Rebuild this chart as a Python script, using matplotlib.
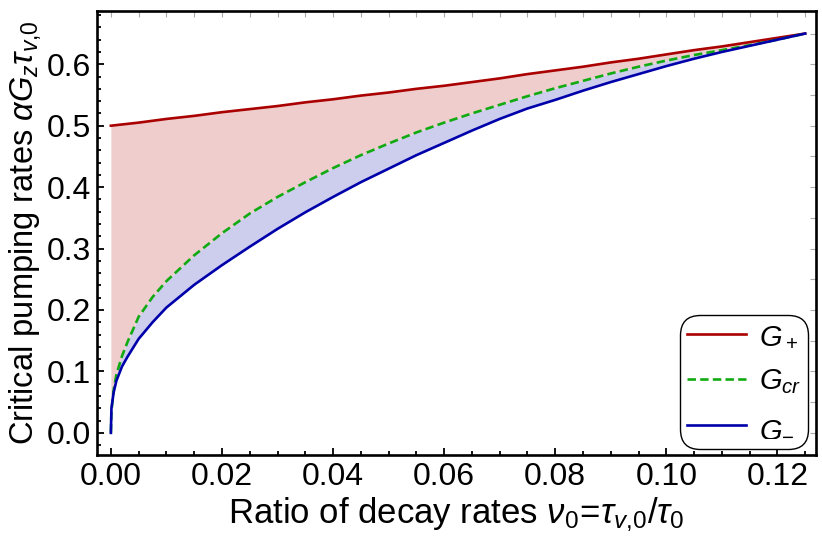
import numpy as np
import matplotlib
matplotlib.use('Agg')
import matplotlib.pyplot as plt
from matplotlib.ticker import MultipleLocator

plt.rcParams['font.family'] = ['Liberation Sans', 'DejaVu Sans']
plt.rcParams['mathtext.fontset'] = 'custom'
plt.rcParams['mathtext.rm'] = 'Liberation Sans'
plt.rcParams['mathtext.it'] = 'Liberation Sans:italic'
plt.rcParams['mathtext.bf'] = 'Liberation Sans:bold'

# ratio of decay rates nu_0
nu = [0, 0.0001, 0.0005, 0.001, 0.002, 0.003, 0.005, 0.0075, 0.01, 0.015,
      0.02, 0.025, 0.03, 0.035, 0.04, 0.045, 0.05, 0.055, 0.06, 0.065,
      0.07, 0.075, 0.08, 0.085, 0.09, 0.095, 0.10, 0.105, 0.11, 0.115,
      0.12, 0.125]

# critical pumping rates
g_plus = [0.500, 0.500, 0.5005, 0.501, 0.502, 0.503, 0.505, 0.508, 0.511, 0.516,
          0.522, 0.527, 0.532, 0.538, 0.543, 0.549, 0.554, 0.560, 0.565, 0.571,
          0.577, 0.584, 0.590, 0.596, 0.603, 0.609, 0.616, 0.623, 0.629, 0.636,
          0.643, 0.650]
g_cr = [0.0, 0.035, 0.070, 0.095, 0.125, 0.148, 0.189, 0.221, 0.247, 0.289,
        0.325, 0.357, 0.384, 0.408, 0.431, 0.452, 0.471, 0.489, 0.505, 0.520,
        0.534, 0.548, 0.561, 0.573, 0.585, 0.596, 0.606, 0.615, 0.623, 0.631,
        0.640, 0.650]
g_minus = [0.0, 0.040, 0.066, 0.085, 0.108, 0.124, 0.153, 0.180, 0.204, 0.241,
           0.273, 0.303, 0.332, 0.359, 0.384, 0.408, 0.430, 0.452, 0.472, 0.492,
           0.511, 0.528, 0.542, 0.557, 0.571, 0.584, 0.597, 0.609, 0.620, 0.630,
           0.640, 0.650]

labels = ['$G_+$', '$G_{cr}$', '$G_{-}$']

fig = plt.figure(figsize=(8.22, 5.41), dpi=100)
ax = fig.add_axes([0.118, 0.159, 0.875, 0.821])

ax.fill_between(nu, g_cr, g_plus, color='#EFCDCD', lw=0)
ax.fill_between(nu, g_minus, g_cr, color='#CDCDEE', lw=0)
ax.plot(nu, g_plus, color='#AA0000', lw=1.9, label=labels[0])
ax.plot(nu, g_cr, color='#11AA11', lw=1.9, ls=(0, (3.2, 1.6)), label=labels[1])
ax.plot(nu, g_minus, color='#0000AA', lw=1.9, label=labels[2])

ax.set_xlim(-0.0025, 0.127)
ax.set_ylim(-0.036, 0.687)

ax.xaxis.set_major_locator(MultipleLocator(0.02))
ax.xaxis.set_minor_locator(MultipleLocator(0.005))
ax.yaxis.set_major_locator(MultipleLocator(0.1))
ax.yaxis.set_minor_locator(MultipleLocator(0.02))
ax.xaxis.set_major_formatter(plt.FuncFormatter(lambda v, p: f'{v:.2f}'))
ax.yaxis.set_major_formatter(plt.FuncFormatter(lambda v, p: f'{v:.1f}'))
ax.tick_params(which='both', direction='in', labelsize=23, width=1.3, color='black')
ax.tick_params(which='major', length=5)
ax.tick_params(which='minor', length=3)
ax.tick_params(axis='x', pad=5)
ax.tick_params(axis='y', pad=4)

for s in ax.spines.values():
    s.set_linewidth(1.9)

# gray frame ticks on top and right
top = ax.secondary_xaxis('top')
top.xaxis.set_major_locator(MultipleLocator(0.005))
top.tick_params(direction='in', length=4, color='#AAAAAA', labeltop=False)
right = ax.secondary_yaxis('right')
right.yaxis.set_major_locator(MultipleLocator(0.05))
right.tick_params(direction='in', length=4, color='#AAAAAA', labelright=False)

ax.set_xlabel(r'Ratio of decay rates $\nu_0\!=\!\tau_{v{,}0}/\tau_0$', fontsize=25, labelpad=3)
ax.set_ylabel(r'Critical pumping rates $\alpha G_z\tau_{v{,}0}$', fontsize=23.5, labelpad=3)

leg = ax.legend(loc='lower right', bbox_to_anchor=(0.989, 0.0135), borderaxespad=0,
                fontsize=21, handlelength=2.0, handletextpad=0.45, labelspacing=0.6,
                borderpad=0.25, fancybox=True, framealpha=1, edgecolor='black')
leg.get_frame().set_linewidth(1.0)
leg.get_frame().set_boxstyle('round', pad=0.0, rounding_size=0.7)

fig.savefig('out.png', dpi=100)
